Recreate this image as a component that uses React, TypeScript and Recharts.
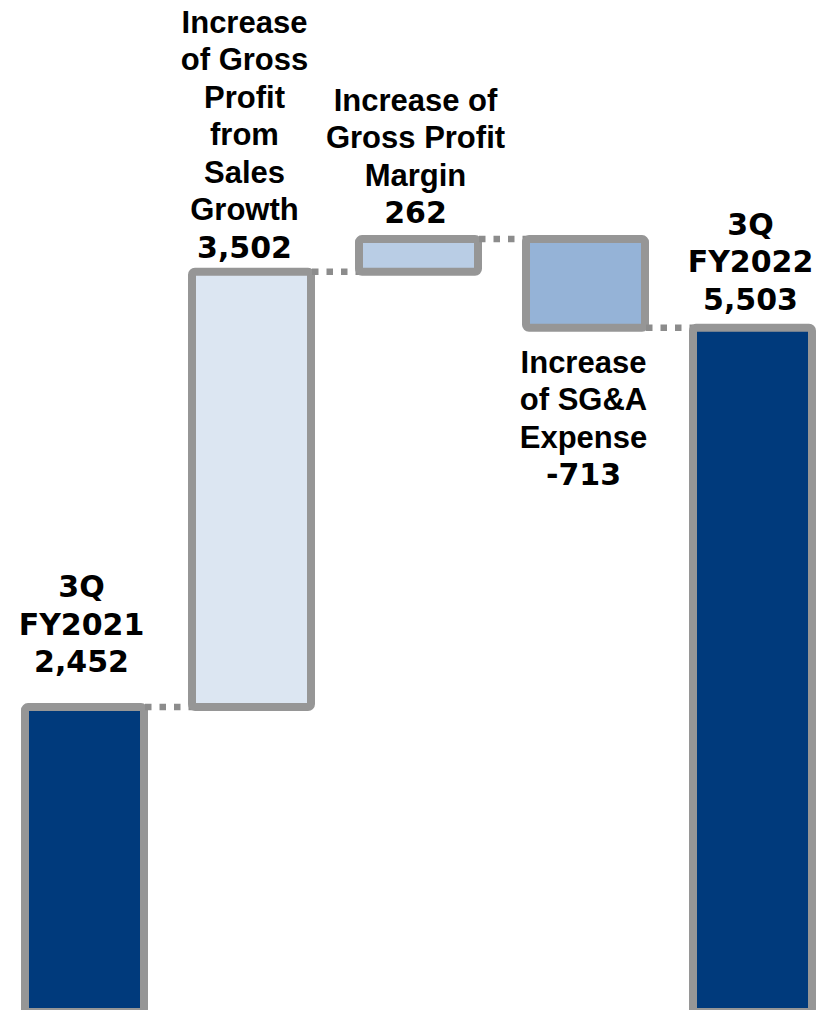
import { BarChart, Bar, XAxis, YAxis } from "recharts";

// values (millions)
const categories = [
  "3Q FY2021",
  "Increase of Gross Profit from Sales Growth",
  "Increase of Gross Profit Margin",
  "Increase of SG&A Expense",
  "3Q FY2022",
];
const nameLines = [
  ["3Q", "FY2021"],
  ["Increase", "of Gross", "Profit", "from", "Sales", "Growth"],
  ["Increase of", "Gross Profit", "Margin"],
  ["Increase", "of SG&A", "Expense"],
  ["3Q", "FY2022"],
];
const changes = [2452, 3502, 262, -713, 5503];
const valueLabels = ["2,452", "3,502", "262", "-713", "5,503"];
const isTotal = [true, false, false, false, true];

// styling
const COLORS = ["#003A7C", "#DCE6F2", "#B9CDE5", "#95B3D7", "#003A7C"];
const BORDER = "#969696";
const BAR_GAP = 24;
const LINE_H = 37.5;
const labelGap = [35, 14, 16, 45, 18];
const labelDx = [-3, -7, -3, -2, -2];

const rows = (() => {
  let level = 0;
  return categories.map((name, i) => {
    const v = changes[i];
    let base = 0;
    let delta = 0;
    if (isTotal[i]) {
      delta = v;
      level = v;
    } else if (v >= 0) {
      base = level;
      delta = v;
      level += v;
    } else {
      level += v;
      base = level;
      delta = -v;
    }
    return { name, base, delta, idx: i };
  });
})();

const nameFont = "'Liberation Sans', Arial, sans-serif";
const numFont = "'DejaVu Sans', Verdana, sans-serif";

function StepBar(props: any) {
  const { x, y, width, height, payload } = props;
  const i = payload.idx;
  const cx = x + width / 2 + labelDx[i];
  const below = changes[i] < 0;
  const lines = [...nameLines[i], valueLabels[i]];
  const n = lines.length;
  const connY = below ? y + height : y;

  return (
    <g>
      <rect
        x={x}
        y={y}
        width={width}
        height={height}
        rx={3}
        fill={COLORS[i]}
        stroke={BORDER}
        strokeWidth={8}
      />
      {i < categories.length - 1 && (
        <line
          x1={x + width + 1}
          x2={x + width + 2 * BAR_GAP}
          y1={connY}
          y2={connY}
          stroke="#8c8c8c"
          strokeWidth={6.5}
          strokeDasharray="6.5 8"
        />
      )}
      {lines.map((t, k) => {
        const ty = below
          ? y + height + labelGap[i] + k * LINE_H
          : y - labelGap[i] - (n - 1 - k) * LINE_H;
        const useNum = k === n - 1 || isTotal[i];
        return (
          <text
            key={k}
            x={cx}
            y={ty}
            textAnchor="middle"
            fontFamily={useNum ? numFont : nameFont}
            fontSize={useNum ? 30 : 31}
            fontWeight="bold"
            fill="#000"
          >
            {t}
          </text>
        );
      })}
    </g>
  );
}

export default function App() {
  return (
    <div
      style={{
        position: "fixed",
        left: 0,
        top: 0,
        width: 825,
        height: 1010,
        overflow: "hidden",
        background: "#fff",
      }}
    >
      <BarChart
        width={836}
        height={1012}
        data={rows}
        margin={{ top: 0, right: 0, left: 1, bottom: 0 }}
        barCategoryGap={BAR_GAP}
      >
        <XAxis dataKey="name" hide />
        <YAxis type="number" domain={[0, 8139]} allowDataOverflow hide />
        <Bar dataKey="base" stackId="w" fill="transparent" isAnimationActive={false} />
        <Bar dataKey="delta" stackId="w" shape={StepBar} isAnimationActive={false} />
      </BarChart>
    </div>
  );
}
